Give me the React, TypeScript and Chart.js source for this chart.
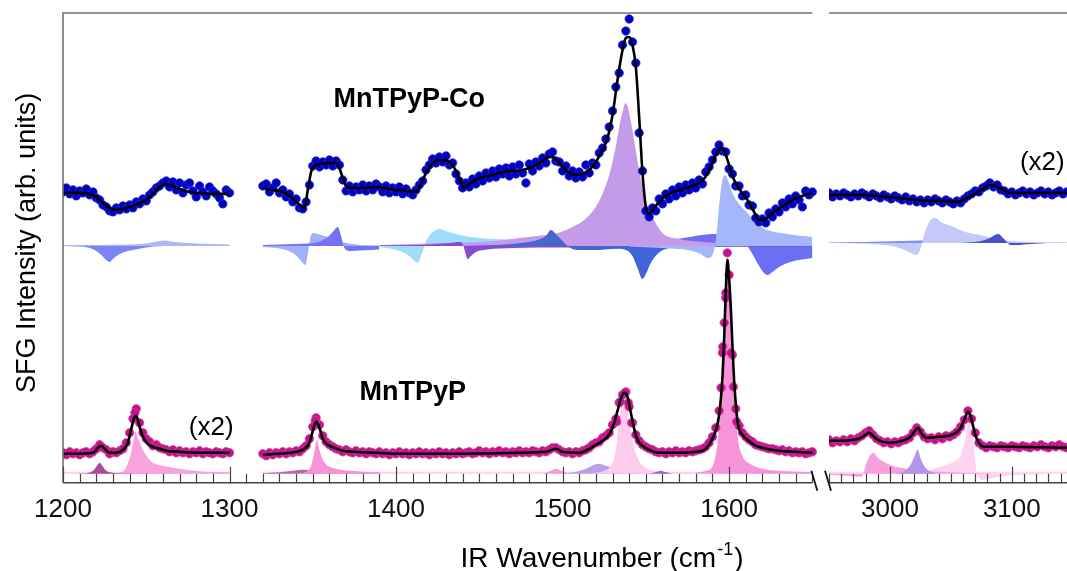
import React, { useEffect, useRef } from "react";
import { Chart, registerables } from "chart.js";

Chart.register(...registerables);

type Pair = [number, number];

// ---------- axes ----------
const X1_MIN = 1200;
const X1_MAX = 1660;
const SEG1_END = 1650;
const X2_MIN = 2950;
const X2_MAX = 3206;
const X1_TICKS = [1200, 1300, 1400, 1500, 1600];
const X2_TICKS = [3000, 3100];
const MINOR_STEP = 10;
const MAJOR_STEP = 100;
const Y_MAX = 470;

// baselines of the fitted components
const CO_BASE = 237;
const CO_BASE3 = 240;
const MN_BASE = 9;

// ---------- MnTPyP-Co measured points (blue) ----------
const CO_DOTS_1_START = 1200, CO_DOTS_1_STEP = 2;
const CO_DOTS_1 = [291,295,289,293,287,292,290,294,288,291,285,283,278,276,272,271,275,273,277,274,278,275,281,279,284,282,288,291,295,297,300,302,296,301,293,300,290,298,300,292,286,297,291,287,296,292,289,285,279,293,290];
const CO_DOTS_2_START = 1320, CO_DOTS_2_STEP = 2;
const CO_DOTS_2 = [
  297,299,291,295,300,290,293,286,289,281,
  284,275,274,281,298,317,322,316,321,318,
  323,317,322,318,303,292,297,291,296,293,
  298,292,297,293,299,296,291,297,290,295,
  291,296,289,294,290,288,293,298,302,313,
  318,324,320,326,321,327,318,320,309,302,
  295,300,296,304,299,307,302,310,305,312,
  306,314,309,315,307,316,309,318,310,300,
  319,312,321,317,325,320,329,331,322,321,
  312,317,307,312,305,311,306,318,310,320,
  318,330,335,344,356,372,396,410,438,452,
  464,441,420,350,312,272,266,275,272,284,
  279,289,284,293,287,296,290,298,293,300,
  295,303,299,311,316,323,331,338,332,331,
  314,309,297,297,287,288,278,277,265,261,
  264,260,270,266,274,271,280,276,284,279,
  287,283,276,292,288,291
];
const CO_DOTS_3_START = 2950, CO_DOTS_3_STEP = 3;
const CO_DOTS_3 = [
  290,286,289,287,290,288,286,289,287,290,
  288,286,289,287,285,288,286,284,287,285,
  283,286,282,284,281,283,280,283,281,284,
  282,280,283,281,279,282,280,284,287,289,
  292,291,295,297,300,296,298,293,292,289,
  291,288,290,292,289,291,288,290,292,289,
  291,288,290,292,289,291,290,288,291,289,
  290,292,289,291,288,290,292,289,291,288,
  290,292,289,291,290,289
];

// ---------- MnTPyP-Co fit (black) ----------
const CO_FIT_1: Pair[] = [[1200,290],[1210,290],[1216,289],[1220,286],[1224,280],[1228,275],[1231,273],[1235,274],[1240,276],[1245,279],[1250,283],[1254,289],[1258,296],[1262,299],[1266,297],[1270,294],[1276,291],[1282,290],[1290,289],[1300,289]];
const CO_FIT_2: Pair[] = [[1320,295],[1326,293],[1332,291],[1336,287],[1340,281],[1343,277],[1345,275],[1347,293],[1349,311],[1351,317],[1355,319],[1360,320],[1364,320],[1366,315],[1368,305],[1370,297],[1373,295],[1380,295],[1389,296],[1392,295],[1400,293],[1406,292],[1412,291],[1415,299],[1418,310],[1421,318],[1425,323],[1429,323],[1432,321],[1435,315],[1438,305],[1441,295],[1444,299],[1448,303],[1452,306],[1458,308],[1464,311],[1470,312],[1476,313],[1482,316],[1487,321],[1492,326],[1494,326],[1497,322],[1500,316],[1504,310],[1508,308],[1512,309],[1516,313],[1520,321],[1524,333],[1527,345],[1530,368],[1533,403],[1536,433],[1538,445],[1540,446],[1542,438],[1544,416],[1546,366],[1548,310],[1550,276],[1552,269],[1555,275],[1558,281],[1562,287],[1567,291],[1572,294],[1578,297],[1583,301],[1587,309],[1590,320],[1593,331],[1595,335],[1597,332],[1600,318],[1603,303],[1607,292],[1611,283],[1615,271],[1618,263],[1621,263],[1624,267],[1628,272],[1635,280],[1642,286],[1650,290]];
const CO_FIT_3: Pair[] = [[2950,288],[2970,288],[2990,287],[3005,285],[3015,284],[3027,282],[3040,282],[3055,281],[3062,284],[3068,288],[3075,293],[3082,298],[3086,297],[3090,295],[3096,291],[3100,290],[3130,290],[3170,290],[3206,290]];

// ---------- MnTPyP-Co components (amplitude above/below baseline) ----------
const CB1: Pair[] = [[1200,0],[1210,-0.5],[1215,-1.5],[1219,-4],[1223,-9],[1226,-14],[1228,-16],[1230,-13],[1233,-9],[1237,-6],[1242,-4],[1248,-2],[1254,-0.5],[1260,0],[1300,0]];
const CB2: Pair[] = [[1200,1],[1240,1.5],[1250,2.5],[1255,4],[1258,5],[1261,5.5],[1265,4.5],[1270,3.5],[1280,2.5],[1290,2],[1300,1.5]];
const CB3: Pair[] = [[1320,-1],[1328,-2],[1334,-4],[1338,-7],[1341,-11],[1344,-17],[1345.5,-19],[1347,-8],[1348.5,8],[1350,13],[1353,12],[1357,10],[1362,8],[1366,5],[1370,3],[1380,1],[1390,0.5]];
const CB4: Pair[] = [[1320,1],[1340,2],[1350,3],[1355,5],[1359,9],[1362,14],[1365,19],[1367,10],[1368.5,0],[1370,-4],[1373,-5],[1378,-4.5],[1385,-4],[1390,-3.5]];
const CB5: Pair[] = [[1390,-1],[1398,-3],[1404,-6],[1408,-10],[1411,-15],[1413,-17],[1415,-10],[1417,0],[1419,8],[1422,14],[1426,17],[1430,15],[1436,12],[1445,9],[1460,7],[1480,5.5],[1500,4.5],[1530,3.5],[1560,3],[1600,2],[1650,1.5]];
const CB6: Pair[] = [[1390,0.5],[1420,1.5],[1432,3],[1438,4],[1440,2],[1441.5,-6],[1443,-13],[1445,-10],[1448,-6],[1455,-3.5],[1470,-2],[1500,-1.5],[1550,-1],[1650,-0.5]];
const CB7: Pair[] = [[1440,0],[1460,1],[1475,3],[1485,6],[1490,10],[1493,16],[1496,12],[1500,5],[1503,0],[1506,-3],[1510,-4],[1520,-4],[1530,-3],[1540,-2],[1560,-1],[1650,0]];
const CB8: Pair[] = [[1500,0],[1520,-1],[1530,-2],[1538,-4],[1542,-10],[1545,-22],[1548,-33],[1550,-28],[1553,-17],[1557,-8],[1562,-3],[1570,-1],[1580,0]];
const CB9: Pair[] = [[1390,1],[1430,3],[1460,5],[1474,8],[1490,11],[1497,13],[1506,19],[1515,29],[1522,45],[1528,71],[1532,100],[1535,127],[1538,143],[1541,125],[1544,95],[1546.5,71],[1550,45],[1554,29],[1560,13],[1570,7],[1585,4],[1600,3],[1620,2],[1650,1.5]];
const CB10: Pair[] = [[1540,-0.5],[1560,-2],[1570,-3],[1578,-5],[1583,-8],[1587,-12],[1590,-9],[1591.5,0],[1592.5,13],[1594,40],[1596,66],[1597.5,71],[1600,63],[1602,53],[1606,42],[1611,33],[1617,22],[1623,16],[1635,12],[1650,9]];
const CB11: Pair[] = [[1530,0.5],[1550,3],[1565,6],[1580,10],[1590,12],[1598,11],[1604,8],[1608,4],[1611,0],[1614,-8],[1618,-20],[1621,-27],[1623,-29],[1626,-26],[1630,-21],[1635,-17],[1642,-14],[1650,-12]];
const CB12: Pair[] = [[2950,0],[2990,-1.5],[3005,-4],[3014,-8],[3019,-11],[3022,-12],[3025,-6],[3027,4],[3030,15],[3034,24],[3037,25],[3042,21],[3052,16],[3062,11],[3074,8],[3087,4],[3100,2],[3120,1],[3206,0.5]];
const CB13: Pair[] = [[3060,0],[3075,2],[3082,5],[3086,8],[3089,9],[3092,6],[3096,1],[3099,-2],[3104,-2],[3115,-1],[3130,0]];
const CB14: Pair[] = [[2950,0.5],[2980,1],[3010,2],[3040,3],[3060,3.5],[3080,3],[3100,1],[3130,0],[3206,0]];

// ---------- MnTPyP measured points (magenta) ----------
const MN_DOTS_1_START = 1200, MN_DOTS_1_STEP = 2;
const MN_DOTS_1 = [30,28,31,29,30,28,30,31,29,31,34,38,35,33,29,31,30,32,34,40,50,64,74,60,50,44,41,37,38,35,34,33,31,33,30,32,30,31,29,31,30,32,29,31,30,29,31,30,29,31,30];
const MN_DOTS_2_START = 1320, MN_DOTS_2_STEP = 2;
const MN_DOTS_2 = [
  29,27,30,28,30,29,31,29,31,30,
  32,31,34,37,44,56,65,58,47,41,
  38,36,34,33,31,33,31,30,32,30,
  31,29,31,30,29,31,29,30,28,30,
  29,31,29,30,28,30,29,31,29,30,
  28,30,29,31,29,30,28,30,29,31,
  29,30,31,29,30,32,30,31,29,31,
  30,32,30,31,29,31,30,32,30,31,
  30,32,31,30,32,31,33,35,35,33,
  31,30,31,29,31,30,32,33,35,38,
  40,41,45,47,50,58,64,80,88,91,
  76,60,48,42,38,36,34,33,31,30,
  31,29,31,30,32,30,31,30,32,31,
  32,33,34,36,40,46,55,72,130,190,
  208,128,74,57,50,46,43,41,38,37,
  36,35,34,34,33,32,33,31,32,30,
  31,30,31,29,30,31
];
const MN_PEAK_DOTS: Pair[] = [[1598.9,230],[1598,185],[1596.2,136],[1601.2,130],[1595.2,95],[1602.6,96],[1604.6,61],[1597.1,160],[1537.5,90],[1534.5,81],[1539.5,80],[1532.5,61],[1541.5,60],[1351.5,62],[1243.2,70]];
const MN_DOTS_3_START = 2950, MN_DOTS_3_STEP = 3;
const MN_DOTS_3 = [
  43,40,42,41,43,41,44,42,45,47,
  50,52,48,44,42,40,41,39,41,40,
  42,43,45,50,55,51,46,44,45,43,
  46,44,47,46,48,51,56,63,72,64,
  50,40,37,35,37,36,35,37,36,35,
  37,36,35,37,36,35,37,36,38,36,
  35,37,36,38,36,35,37,36,35,37,
  36,35,37,36,35,37,36,35,37,36,
  35,37,36,35,37,36
];

// ---------- MnTPyP fit (black) ----------
const MN_FIT_1: Pair[] = [[1200,29],[1210,29],[1216,29.5],[1219,31],[1221,35],[1223,37],[1225,34],[1228,30],[1232,30],[1236,33],[1239,40],[1241,54],[1243,66],[1244,67],[1246,56],[1248,46],[1251,39],[1254,36],[1258,34],[1262,32],[1270,31],[1282,30],[1300,30]];
const MN_FIT_2: Pair[] = [[1320,28],[1330,29],[1340,31],[1345,34],[1348,40],[1350,52],[1352,61],[1354,55],[1356,44],[1359,38],[1363,35],[1368,32],[1375,31],[1389,30],[1400,29],[1430,29],[1460,29.5],[1474,30],[1490,31],[1496,34],[1500,31],[1510,30],[1516,34],[1520,38],[1524,42],[1527,46],[1530,55],[1533,72],[1535,84],[1537,90],[1539,86],[1541,70],[1543,54],[1545,43],[1548,37],[1552,33],[1558,30],[1570,30],[1580,31],[1585,33],[1588,38],[1591,48],[1593,58],[1594.6,76],[1596,105],[1597,143],[1598,190],[1599,223],[1600,205],[1601,176],[1602,138],[1603,103],[1604.5,70],[1605.6,56],[1608,48],[1611,43],[1615,38],[1620,35],[1630,32],[1640,31],[1650,30]];
const MN_FIT_3: Pair[] = [[2950,42],[2960,42],[2970,43],[2976,45],[2980,48],[2983,50],[2986,47],[2990,43],[3000,40],[3010,42],[3016,45],[3020,51],[3023,55],[3026,49],[3030,45],[3040,46],[3048,47],[3054,50],[3058,55],[3061,63],[3064,71],[3066,67],[3068,58],[3070,48],[3073,40],[3077,36],[3085,36],[3100,36],[3150,35],[3206,35]];

// ---------- MnTPyP components ----------
const CP1: Pair[] = [[1200,0],[1214,0.5],[1218,3],[1220,7],[1222,11],[1224,7],[1226,3],[1230,1],[1240,0.3],[1300,0]];
const CP2: Pair[] = [[1230,0],[1234,1],[1237,4],[1240,15],[1242,30],[1243.5,42],[1245,36],[1248,24],[1251,16],[1254,11],[1260,8],[1266,6],[1274,4],[1282,2.5],[1300,1.5]];
const CP_BAND_1: Pair[] = [[1200,2],[1300,2]];
const CP_BAND_2: Pair[] = [[1320,2],[1650,2]];
const CP_BAND_3: Pair[] = [[2950,2],[3206,2]];
const CP4: Pair[] = [[1320,0.5],[1330,1.5],[1338,3],[1344,4],[1350,3.5],[1358,2],[1370,1],[1390,0.5]];
const CP5: Pair[] = [[1340,0],[1346,2],[1349,8],[1351,22],[1352.5,34],[1354,24],[1356,14],[1359,8],[1364,5],[1372,3],[1390,1.5]];
const CP6: Pair[] = [[1488,0],[1493,3],[1496,5],[1499,3],[1504,0]];
const CP7: Pair[] = [[1500,0],[1508,2],[1514,5],[1519,9],[1522,10],[1526,8],[1532,5],[1540,2],[1550,0]];
const CP8: Pair[] = [[1515,0],[1525,3],[1529,8],[1531.7,20],[1534.5,61],[1537.5,77],[1540.5,47],[1544,20],[1549,7],[1556,3],[1570,1],[1590,0]];
const CP9: Pair[] = [[1552,0],[1557,2],[1559,3],[1561,2],[1566,0]];
const CP10: Pair[] = [[1580,1],[1586,3],[1589.5,6],[1591.6,16],[1593.6,40],[1595.6,104],[1597.5,175],[1599,207],[1600.5,175],[1602.6,104],[1605,40],[1608,18],[1612.6,10],[1620,5],[1635,2.5],[1650,1.5]];
const CP11: Pair[] = [[2950,-1],[2965,-2],[2975,-3],[2978,-1],[2980,8],[2983,17],[2986.5,21],[2990,16],[2995,12],[3000,9],[3007,6.5],[3014,5],[3025,3],[3040,2],[3060,1],[3090,0]];
const CP12: Pair[] = [[3005,0],[3012,3],[3017,9],[3020,17],[3022.8,24],[3025,16],[3028,8],[3032,3],[3038,0]];
const CP13: Pair[] = [[3015,0],[3025,2],[3033,4],[3046.5,9],[3054,13],[3057.5,17],[3061.6,34],[3063.5,48],[3065,54],[3067,45],[3069,25],[3071,2],[3073,-4],[3076,-6],[3085,-4],[3095,-2],[3110,-1],[3140,0]];

// ---------- labels ----------
const LABEL_CO = "MnTPyP-Co";
const LABEL_MN = "MnTPyP";
const LABEL_X2 = "(x2)";
const Y_TITLE = "SFG Intensity (arb. units)";
const X_TITLE = "IR Wavenumber (cm";
const X_TITLE_SUP = "-1";
const X_TITLE_END = ")";

const FONT = "'Liberation Sans', Arial, Helvetica, sans-serif";

const fromPairs = (pairs: Pair[], base = 0) => pairs.map(([x, y]) => ({ x, y: y + base }));
const fromGrid = (start: number, step: number, ys: number[]) => ys.map((y, i) => ({ x: start + i * step, y }));

const decorPlugin = {
  id: "decor",
  afterDraw(chart: any) {
    const { ctx, chartArea } = chart;
    const x1 = chart.scales.x1;
    const x2 = chart.scales.x2;
    const y = chart.scales.y;
    const { left, right, top, bottom } = chartArea;
    const end1 = x1.getPixelForValue(SEG1_END);
    const start2 = x2.left;
    ctx.save();
    // frame
    ctx.strokeStyle = "#707070";
    ctx.lineWidth = 1.6;
    ctx.beginPath();
    ctx.moveTo(left, bottom);
    ctx.lineTo(left, top);
    ctx.lineTo(end1, top);
    ctx.moveTo(start2, top);
    ctx.lineTo(right, top);
    ctx.stroke();
    ctx.strokeStyle = "#444";
    ctx.beginPath();
    ctx.moveTo(left, bottom);
    ctx.lineTo(end1, bottom);
    ctx.moveTo(start2, bottom);
    ctx.lineTo(right, bottom);
    ctx.stroke();
    // inward ticks
    ctx.lineWidth = 1.2;
    ctx.beginPath();
    for (let v = X1_MIN; v <= SEG1_END; v += MINOR_STEP) {
      const px = Math.round(x1.getPixelForValue(v)) + 0.5;
      const len = v % MAJOR_STEP === 0 ? 16 : 9;
      ctx.moveTo(px, bottom);
      ctx.lineTo(px, bottom - len);
    }
    for (let v = X2_MIN; v <= X2_MAX; v += MINOR_STEP) {
      const px = Math.round(x2.getPixelForValue(v)) + 0.5;
      const len = v % MAJOR_STEP === 0 ? 16 : 9;
      ctx.moveTo(px, bottom);
      ctx.lineTo(px, bottom - len);
    }
    ctx.stroke();
    // axis break marks
    ctx.strokeStyle = "#111";
    ctx.lineWidth = 1.8;
    ctx.beginPath();
    ctx.moveTo(end1 - 1, bottom - 12);
    ctx.lineTo(end1 + 5, bottom + 8);
    ctx.moveTo(start2 - 4, bottom - 12);
    ctx.lineTo(start2 + 2, bottom + 8);
    ctx.stroke();

    // annotations
    ctx.fillStyle = "#000";
    ctx.textAlign = "center";
    ctx.textBaseline = "middle";
    ctx.font = `bold 27px ${FONT}`;
    ctx.fillText(LABEL_CO, x1.getPixelForValue(1408), y.getPixelForValue(383));
    ctx.fillText(LABEL_MN, x1.getPixelForValue(1410), y.getPixelForValue(90));
    ctx.font = `26px ${FONT}`;
    ctx.fillText(LABEL_X2, x1.getPixelForValue(1289), y.getPixelForValue(55));
    ctx.fillText(LABEL_X2, x2.getPixelForValue(3125), y.getPixelForValue(320));

    // y title
    ctx.save();
    ctx.translate(28, y.getPixelForValue(240));
    ctx.rotate(-Math.PI / 2);
    ctx.font = `27px ${FONT}`;
    ctx.fillText(Y_TITLE, 0, 0);
    ctx.restore();

    // x title with superscript
    ctx.textBaseline = "alphabetic";
    ctx.textAlign = "left";
    ctx.font = `28px ${FONT}`;
    const wMain = ctx.measureText(X_TITLE).width;
    const wEnd = ctx.measureText(X_TITLE_END).width;
    ctx.font = `18px ${FONT}`;
    const wSup = ctx.measureText(X_TITLE_SUP).width;
    const total = wMain + wSup + 2 + wEnd;
    const cx = (left + right) / 2;
    const base = bottom + 84;
    let xx = cx - total / 2;
    ctx.font = `28px ${FONT}`;
    ctx.fillText(X_TITLE, xx, base);
    xx += wMain + 1;
    ctx.font = `18px ${FONT}`;
    ctx.fillText(X_TITLE_SUP, xx, base - 12);
    xx += wSup + 1;
    ctx.font = `28px ${FONT}`;
    ctx.fillText(X_TITLE_END, xx, base);
    ctx.restore();
  },
};

export default function App() {
  const ref = useRef<HTMLCanvasElement>(null);

  useEffect(() => {
    const canvas = ref.current;
    if (!canvas) return;

    const fitDs = (pairs: Pair[], axis: string) => ({
      data: fromPairs(pairs),
      xAxisID: axis,
      yAxisID: "y",
      borderColor: "#000",
      borderWidth: 2.6,
      pointRadius: 0,
      fill: false,
      cubicInterpolationMode: "monotone",
      order: 0,
    });
    const dotDs = (pts: { x: number; y: number }[], axis: string, color: string, edge: string) => ({
      data: pts,
      xAxisID: axis,
      yAxisID: "y",
      showLine: false,
      pointRadius: 4.2,
      pointBackgroundColor: color,
      pointBorderColor: edge,
      pointBorderWidth: 0.8,
      order: 1,
    });
    const compDs = (pairs: Pair[], base: number, axis: string, color: string, order: number) => ({
      data: fromPairs(pairs, base),
      xAxisID: axis,
      yAxisID: "y",
      borderWidth: 0,
      borderColor: color,
      pointRadius: 0,
      backgroundColor: color,
      fill: { value: base },
      cubicInterpolationMode: "monotone",
      order,
    });

    const BLUE = "#0000c0";
    const BLUE_EDGE = "#2a2ad0";
    const MAGENTA = "#c4108a";
    const MAGENTA_EDGE = "#d03a9e";

    const datasets: any[] = [
      fitDs(CO_FIT_1, "x1"),
      fitDs(CO_FIT_2, "x1"),
      fitDs(CO_FIT_3, "x2"),
      fitDs(MN_FIT_1, "x1"),
      fitDs(MN_FIT_2, "x1"),
      fitDs(MN_FIT_3, "x2"),
      dotDs([...fromGrid(CO_DOTS_1_START, CO_DOTS_1_STEP, CO_DOTS_1), ...fromGrid(CO_DOTS_2_START, CO_DOTS_2_STEP, CO_DOTS_2)], "x1", BLUE, BLUE_EDGE),
      dotDs(fromGrid(CO_DOTS_3_START, CO_DOTS_3_STEP, CO_DOTS_3), "x2", BLUE, BLUE_EDGE),
      dotDs([...fromGrid(MN_DOTS_1_START, MN_DOTS_1_STEP, MN_DOTS_1), ...fromGrid(MN_DOTS_2_START, MN_DOTS_2_STEP, MN_DOTS_2), ...fromPairs(MN_PEAK_DOTS)], "x1", MAGENTA, MAGENTA_EDGE),
      dotDs(fromGrid(MN_DOTS_3_START, MN_DOTS_3_STEP, MN_DOTS_3), "x2", MAGENTA, MAGENTA_EDGE),
      // MnTPyP-Co components
      compDs(CB10, CO_BASE, "x1", "#a3b7fa", 10),
      compDs(CB4, CO_BASE, "x1", "#7474f2", 11),
      compDs(CB3, CO_BASE, "x1", "#a0b1fa", 12),
      compDs(CB1, CO_BASE, "x1", "#7b84f4", 13),
      compDs(CB2, CO_BASE, "x1", "#abb8fb", 14),
      compDs(CB8, CO_BASE, "x1", "#3f66d8", 15),
      compDs(CB7, CO_BASE, "x1", "#4467c8", 16),
      compDs(CB6, CO_BASE, "x1", "#8b48d4", 17),
      compDs(CB9, CO_BASE, "x1", "#c39be9", 18),
      compDs(CB11, CO_BASE, "x1", "#6c6ef3", 19),
      compDs(CB5, CO_BASE, "x1", "#9edcf9", 20),
      compDs(CB13, CO_BASE3, "x2", "#4a4fd0", 21),
      compDs(CB12, CO_BASE3, "x2", "#c5c9f9", 22),
      compDs(CB14, CO_BASE3, "x2", "#7f8cf3", 23),
      // MnTPyP components
      compDs(CP1, MN_BASE, "x1", "#ad4a99", 30),
      compDs(CP12, MN_BASE, "x2", "#b593e6", 31),
      compDs(CP9, MN_BASE, "x1", "#8a6ad8", 32),
      compDs(CP8, MN_BASE, "x1", "#fdcbef", 33),
      compDs(CP7, MN_BASE, "x1", "#b8a0e8", 34),
      compDs(CP6, MN_BASE, "x1", "#f59ad8", 35),
      compDs(CP5, MN_BASE, "x1", "#f794d8", 36),
      compDs(CP2, MN_BASE, "x1", "#f8a3de", 37),
      compDs(CP10, MN_BASE, "x1", "#f793d9", 38),
      compDs(CP11, MN_BASE, "x2", "#f8a0df", 39),
      compDs(CP13, MN_BASE, "x2", "#fdd3f1", 40),
      compDs(CP4, MN_BASE, "x1", "#b56aa8", 41),
      compDs(CP_BAND_1, MN_BASE, "x1", "#fbd4ef", 42),
      compDs(CP_BAND_2, MN_BASE, "x1", "#fbd4ef", 43),
      compDs(CP_BAND_3, MN_BASE, "x2", "#fbd4ef", 44),
    ];

    const tickCfg = {
      font: { size: 26, family: FONT },
      color: "#111",
      padding: 11,
      maxRotation: 0,
      autoSkip: false,
      callback: (v: number) => String(v),
    };

    const chart = new Chart(canvas, {
      type: "line",
      data: { datasets },
      options: {
        responsive: false,
        animation: false,
        devicePixelRatio: 1,
        events: [],
        layout: { padding: { left: 63, top: 13, right: 19, bottom: 35 } },
        plugins: { legend: { display: false }, tooltip: { enabled: false } },
        scales: {
          x1: {
            type: "linear",
            position: "bottom",
            stack: "wn",
            stackWeight: 766,
            min: X1_MIN,
            max: X1_MAX,
            grid: { display: false, drawTicks: false },
            border: { display: false },
            ticks: tickCfg,
            afterBuildTicks: (s: any) => {
              s.ticks = X1_TICKS.map((v) => ({ value: v }));
            },
          },
          x2: {
            type: "linear",
            position: "bottom",
            stack: "wn",
            stackWeight: 312,
            min: X2_MIN,
            max: X2_MAX,
            grid: { display: false, drawTicks: false },
            border: { display: false },
            ticks: tickCfg,
            afterBuildTicks: (s: any) => {
              s.ticks = X2_TICKS.map((v) => ({ value: v }));
            },
          },
          y: { type: "linear", display: false, min: 0, max: Y_MAX },
        },
      } as any,
      plugins: [decorPlugin],
    });

    return () => chart.destroy();
  }, []);

  return (
    <div style={{ position: "absolute", left: 0, top: 0, width: 1067, height: 571, overflow: "hidden", background: "#fff" }}>
      <canvas ref={ref} width={1160} height={571} style={{ display: "block" }} />
    </div>
  );
}
